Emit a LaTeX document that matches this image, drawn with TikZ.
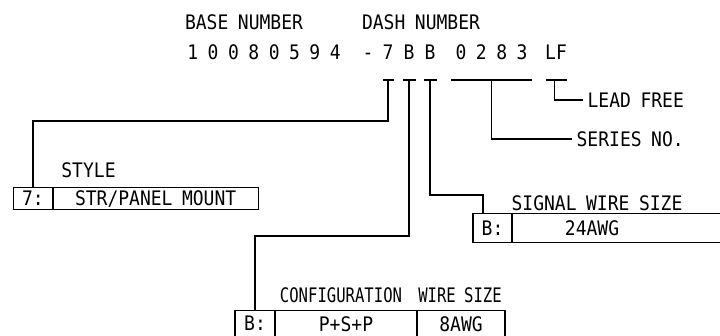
\documentclass[tikz,border=0pt]{standalone}
\usepackage{fontspec}
\newfontfamily\cadfont[FakeStretch=0.9,WordSpace=0.88]{DejaVu Sans Mono}
\newfontfamily\cadnarrow[FakeStretch=0.78,WordSpace=0.88]{DejaVu Sans Mono}
\usetikzlibrary{calc}
\tikzset{
  lbl/.style={font=\cadfont\fontsize{20}{22}\selectfont, inner sep=0pt},
  slim/.style={font=\cadnarrow\fontsize{20}{22}\selectfont, inner sep=0pt},
  tag/.style={lbl, anchor=west, inner xsep=4pt},
  cell/.style={draw, line width=1.3pt, inner sep=0pt, anchor=north,
    font=\cadfont\fontsize{20}{22}\selectfont}
}

\begin{document}
\begin{tikzpicture}[x=1pt,y=-1pt,line width=1.3pt]
\clip (0,0) rectangle (720,336);

% headings
\node[lbl] (base) at (244,22) {BASE NUMBER};
\node[lbl] (dash) at (421,22) {DASH NUMBER};

% part number, one node per coded field
\node[lbl,anchor=base] (num) at (264,60) {1 0 0 8 0 5 9 4};
\foreach \ch/\x/\nm in {-/368/hy, 7/388/c7, B/409/cb, B/430/cs, 0 2 8 3/491.5/ser, LF/556/lf} {
  \node[lbl,anchor=base] (\nm) at (\x,60) {\ch};
}

% underlines
\foreach \nm/\w in {c7/5.5, cb/6.5, cs/6.5, ser/40.5, lf/10.5} {
  \draw ($(\nm.base)+(-\w,20)$) -- ($(\nm.base)+(\w,20)$);
  \coordinate (u\nm) at ($(\nm.base)+(0,20)$);
}

% style table
\node[cell,minimum width=39pt,minimum height=22pt] (skey) at (33,187) {7:};
\node[cell,minimum width=205pt,minimum height=22pt,anchor=north west] (sval) at (52.5,187) {STR/PANEL MOUNT};
\node[lbl] (stitle) at (88.5,170) {STYLE};

% signal wire table (runs off the right edge)
\node[cell,minimum width=39pt,minimum height=29pt] (gkey) at (492.5,213) {B:};
\node[cell,minimum width=260pt,minimum height=29pt,anchor=north west] (gval) at (512,213) {};
\node[lbl] (gsize) at (592,228) {24AWG};
\node[lbl] (gtitle) at (597,203.5) {SIGNAL WIRE SIZE};

% configuration table (runs off the bottom edge)
\node[cell,minimum width=40pt,minimum height=30pt,text depth=4pt] (ckey) at (255,310) {B:};
\node[cell,minimum width=142pt,minimum height=30pt,text depth=4pt] (cval) at (346,310) {P+S+P};
\node[cell,minimum width=88pt,minimum height=30pt,text depth=4pt] (cwire) at (461,310) {8AWG};
\node[slim] (ctitle) at (341,295) {CONFIGURATION};
\node[slim] (wtitle) at (460,295) {WIRE SIZE};

% right hand tags
\node[tag] (series) at (572,139) {SERIES NO.};
\node[tag] (lead) at (583,100) {LEAD FREE};

% leaders
\draw (uc7) -- ++(0,41) -| (skey.north);
\draw (ucb) -- ++(0,156) -| (ckey.north);
\draw (ucs) -- ++(0,115) -| ($(gkey.north)+(-9.5,0)$);
\draw (user) |- (series.west);
\draw ($(ulf)+(-1.5,0)$) |- (lead.west);
\end{tikzpicture}
\end{document}
